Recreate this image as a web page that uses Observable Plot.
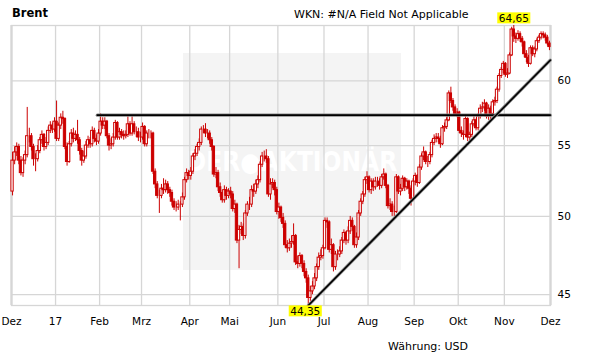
<!DOCTYPE html>
<html>
<head>
<meta charset="utf-8">
<script src="https://cdn.jsdelivr.net/npm/d3@7"></script>
<script src="https://cdn.jsdelivr.net/npm/@observablehq/plot@0.6"></script>
<style>
  body { margin: 0; background: #fff; font-family: "DejaVu Sans", Verdana, sans-serif; }
  #wrap { position: relative; width: 611px; height: 364px; overflow: hidden; background: #fff; }
  #wm { position: absolute; left: 183px; top: 53px; width: 218px; height: 217px; background: #f4f4f4; }
  #wmText { position: absolute; left: 0; top: 96px; width: 218px; text-align: center; color: #fff;
            font-family: "DejaVu Sans Condensed", "DejaVu Sans", sans-serif; font-weight: bold; font-size: 26px; line-height: 26px; }
  #chart { position: absolute; left: 0; top: 0; }
  .txt { position: absolute; font-size: 11px; line-height: 13px; color: #000; white-space: nowrap; }
</style>
</head>
<body>
<div id="wrap">
  <div id="wm"><div id="wmText">DER&#x25CF;AKTIONÄR</div></div>
  <div id="chart"></div>
  <div class="txt" style="left:12px;top:7px;font-weight:bold;font-size:11.5px;">Brent</div>
  <div class="txt" style="left:294px;top:8px;">WKN: #N/A Field Not Applicable</div>
  <div class="txt" style="left:388px;top:340px;">Währung: USD</div>
</div>
<script>
// Month tick labels and the trading-day index where each month starts
const monthLabels = ["Dez","17","Feb","Mrz","Apr","Mai","Jun","Jul","Aug","Sep","Okt","Nov","Dez"];
const monthStart  = [0, 21, 42, 62, 85, 104, 127, 149, 170, 192, 213, 235, 257];
const yTicks = [45, 50, 55, 60];

// Daily OHLC, Dec 2016 - Nov 2017 (USD)
const open = [
  51.7,53.9,54.5,54.9,53.9,53.0,53.9,54.3,55.7,55.7,54.9,54.0,54.0,54.6,55.4,55.8,54.9,55.2,56.1,56.5,56.2,
  56.8,55.5,56.5,57.1,57.0,54.9,53.8,55.1,55.9,55.5,55.8,55.4,54.6,53.9,54.2,55.0,55.4,55.1,56.1,55.5,55.3,
  55.9,56.8,56.5,56.8,55.7,55.0,55.1,55.6,56.7,55.6,56.0,55.8,55.7,55.8,56.6,55.9,56.6,56.0,56.0,55.6,
  55.6,56.4,55.1,55.9,55.9,55.9,53.1,52.2,51.4,51.4,51.9,51.8,52.2,51.8,51.6,51.0,50.6,50.6,50.8,50.8,51.3,52.5,53.0,
  52.8,53.1,54.2,54.4,54.9,55.2,56.2,56.2,55.9,55.9,55.4,54.9,52.9,53.0,52.0,51.6,51.1,51.8,51.4,
  51.7,51.5,50.5,50.8,48.4,49.1,49.3,48.7,50.2,50.8,50.8,51.8,51.7,52.2,52.5,53.6,54.2,54.2,54.0,51.5,52.2,52.3,51.8,
  50.3,50.6,49.9,49.5,48.1,47.9,48.2,48.3,48.7,47.0,46.9,47.4,46.9,46.4,46.0,44.8,45.2,45.5,46.0,46.7,47.3,47.4,
  47.9,49.7,49.6,47.8,48.1,46.7,47.5,47.5,47.7,48.4,48.9,48.4,49.0,49.7,49.3,48.1,48.6,50.2,51.0,51.5,52.5,
  52.7,51.8,52.4,52.0,52.4,52.4,52.1,52.7,52.9,52.1,50.7,50.8,50.3,50.3,52.7,51.7,51.9,52.6,52.0,52.4,51.9,51.2,
  52.4,52.8,52.3,53.4,54.2,54.5,53.8,53.8,54.3,55.2,55.5,55.6,55.5,55.1,56.3,56.4,56.9,59.0,58.4,57.9,57.4,
  57.5,56.1,55.9,55.8,57.0,55.6,55.8,56.6,56.9,56.3,57.2,57.8,57.9,58.2,57.2,57.8,57.4,58.3,58.4,59.3,60.4,60.9,
  61.4,60.5,60.6,62.1,64.3,63.7,63.5,63.9,63.5,63.2,62.2,61.9,61.4,62.7,62.2,62.6,63.3,63.6,63.9,63.8,63.6,63.1
];
const high = [
  54.5,54.9,55.2,55.1,54.2,54.1,54.6,57.9,56.3,55.9,55.1,54.4,55.0,55.6,56.1,55.9,55.6,56.4,56.8,56.7,57.1,
  58.4,56.7,57.4,57.6,57.1,55.2,55.3,56.2,56.3,56.1,56.9,55.6,54.8,54.6,55.3,55.7,55.6,56.4,56.3,55.8,56.2,
  57.4,57.1,57.1,56.9,55.9,55.5,55.9,56.9,56.8,56.3,56.2,56.1,56.1,57.3,56.8,57.3,56.8,56.4,56.3,56.0,
  56.7,56.5,56.1,56.2,56.1,56.0,53.3,52.4,51.8,52.2,52.6,52.5,52.4,52.0,51.8,51.2,51.0,51.1,51.0,51.6,52.7,53.3,53.2,
  53.4,54.4,54.7,55.1,55.5,56.4,56.5,56.65,56.2,56.1,55.6,55.0,53.4,53.2,52.3,51.8,52.1,52.0,51.9,
  52.0,51.7,51.1,50.9,49.4,49.6,49.5,50.4,51.0,51.3,52.1,52.2,52.5,52.8,53.8,54.5,54.6,54.7,54.2,52.6,52.6,52.5,52.0,
  50.9,50.7,50.2,49.7,48.4,48.5,48.7,49.5,48.8,47.4,47.6,47.5,47.1,46.6,46.2,45.5,45.8,46.3,46.9,47.6,47.8,48.1,
  49.9,49.9,49.7,48.5,48.2,47.7,47.8,48.0,48.6,49.1,49.0,49.3,50.0,49.9,49.4,48.9,50.4,51.2,51.7,52.7,53.1,
  52.8,52.6,52.6,52.7,52.7,52.6,52.9,53.3,53.0,52.2,51.2,51.0,50.7,52.9,52.8,52.2,52.8,52.7,52.6,52.5,52.1,52.6,
  53.0,52.9,53.6,54.4,54.9,54.6,54.2,54.5,55.4,55.8,55.9,55.9,55.7,56.5,56.7,57.1,59.2,59.5,58.6,58.1,57.8,
  57.6,56.4,56.1,57.2,57.1,56.0,56.8,57.2,57.0,57.4,58.1,58.3,58.5,58.3,58.1,58.0,58.5,58.7,59.5,60.6,61.1,61.6,
  61.5,61.0,62.3,64.5,64.65,64.0,64.2,64.1,63.7,63.3,62.5,62.1,62.9,62.9,62.8,63.5,63.8,64.1,64.1,64.0,63.8,63.3
];
const low = [
  51.4,53.6,54.2,53.6,52.8,52.7,53.6,54.1,55.2,54.6,53.5,53.1,53.8,54.4,55.1,54.6,54.7,55.0,55.9,55.9,56.0,
  55.3,55.3,56.2,56.6,54.7,53.5,53.7,54.9,55.2,55.3,55.1,54.3,53.5,53.7,54.0,54.8,54.8,54.9,55.2,55.0,55.1,
  55.7,56.2,56.2,55.5,54.6,54.7,54.9,55.4,55.4,55.4,55.5,55.4,55.5,55.6,55.7,55.7,55.8,55.6,55.3,55.2,
  55.4,54.9,54.9,55.5,55.5,52.9,51.9,51.2,50.2,51.2,51.5,51.6,51.5,51.3,50.7,50.4,50.3,50.4,49.7,50.6,51.1,52.3,52.5,
  52.5,52.9,53.9,54.2,54.6,55.0,55.9,55.6,55.5,55.1,54.6,52.7,52.6,51.7,51.3,50.9,50.9,51.1,51.2,
  51.2,50.3,50.2,48.2,46.6,48.8,48.4,48.5,50.0,50.4,50.6,51.3,51.5,51.9,52.3,53.4,53.8,53.7,51.3,51.1,51.9,51.4,50.1,
  49.8,49.6,49.2,47.9,47.6,47.7,47.9,48.1,46.8,46.6,46.7,46.6,46.1,45.7,44.35,44.6,45.0,45.3,45.8,46.5,47.1,47.2,
  47.8,49.2,47.6,47.5,46.4,46.5,47.1,47.3,47.5,48.2,48.1,48.2,48.8,49.0,47.9,47.9,48.4,50.0,50.8,51.3,52.2,
  51.6,51.5,51.7,51.8,52.0,51.8,51.9,52.5,51.9,50.5,50.4,50.0,50.0,50.2,51.5,51.4,51.7,51.7,51.8,51.5,50.7,51.0,
  52.1,52.0,52.2,53.2,53.9,53.6,53.4,53.6,54.1,55.0,55.2,55.2,54.8,55.0,56.0,56.2,56.8,58.2,57.6,57.2,57.1,
  55.9,55.6,55.4,55.6,55.3,55.3,55.6,56.4,56.1,56.1,57.0,57.5,57.6,57.0,56.9,56.9,57.2,58.0,58.2,59.1,60.2,60.6,
  60.3,60.2,60.5,62.0,63.2,63.1,63.3,63.2,62.8,61.9,61.5,61.1,61.3,62.0,61.9,62.4,63.1,63.4,63.5,63.3,62.9,62.5
];
const close = [
  53.9,54.5,54.9,53.9,53.0,53.9,54.3,55.7,55.7,54.9,54.0,54.0,54.6,55.4,55.8,54.9,55.2,56.1,56.5,56.2,56.8,
  55.5,56.5,57.1,57.0,54.9,53.8,55.1,55.9,55.5,55.8,55.4,54.6,53.9,54.2,55.0,55.4,55.1,56.1,55.5,55.3,55.9,
  56.8,56.5,56.8,55.7,55.0,55.1,55.6,56.7,55.6,56.0,55.8,55.7,55.8,56.6,55.9,56.6,56.0,56.0,55.6,55.6,
  56.4,55.1,55.9,55.9,55.9,53.1,52.2,51.4,51.4,51.9,51.8,52.2,51.8,51.6,51.0,50.6,50.6,50.8,50.8,51.3,52.5,53.0,52.8,
  53.1,54.2,54.4,54.9,55.2,56.2,56.2,55.9,55.9,55.4,54.9,52.9,53.0,52.0,51.6,51.1,51.8,51.4,51.7,
  51.5,50.5,50.8,48.4,49.1,49.3,48.7,50.2,50.8,50.8,51.8,51.7,52.2,52.5,53.6,54.2,54.2,54.0,51.5,52.2,52.3,51.8,50.3,
  50.6,49.9,49.5,48.1,47.9,48.2,48.3,48.7,47.0,46.9,47.4,46.9,46.4,46.0,44.8,45.2,45.5,46.0,46.7,47.3,47.4,47.9,
  49.7,49.6,47.8,48.1,46.7,47.5,47.5,47.7,48.4,48.9,48.4,49.0,49.7,49.3,48.1,48.6,50.2,51.0,51.5,52.5,52.7,
  51.8,52.4,52.0,52.4,52.4,52.1,52.7,52.9,52.1,50.7,50.8,50.3,50.3,52.7,51.7,51.9,52.6,52.0,52.4,51.9,51.2,52.4,
  52.8,52.3,53.4,54.2,54.5,53.8,53.8,54.3,55.2,55.5,55.6,55.5,55.1,56.3,56.4,56.9,59.0,58.4,57.9,57.4,57.5,
  56.1,55.9,55.8,57.0,55.6,55.8,56.6,56.9,56.3,57.2,57.8,57.9,58.2,57.2,57.8,57.4,58.3,58.4,59.3,60.4,60.9,61.4,
  60.5,60.6,62.1,64.3,63.7,63.5,63.9,63.5,63.2,62.2,61.9,61.4,62.7,62.2,62.6,63.3,63.6,63.9,63.8,63.6,63.1,62.8
];

// Drawn trend lines (index, price)
const resistanceLine = [{i: 40.4, v: 57.3}, {i: 256.4, v: 57.3}];
const supportLine    = [{i: 141, v: 44.35}, {i: 256.4, v: 61.7}];

const red = "#cc0000";
const days = close.map((c, i) => ({i, open: open[i], high: high[i], low: low[i], close: c}));
const maxDay = days.reduce((a, b) => (b.high > a.high ? b : a));
const minDay = days.reduce((a, b) => (b.low < a.low ? b : a));
const fmt = v => v.toFixed(2).replace(".", ",");
const months = monthLabels.map((label, k) => ({label, pos: monthStart[k] - 0.5}));

const plot = Plot.plot({
  width: 611,
  height: 364,
  marginLeft: 11,
  marginRight: 61,
  marginTop: 25,
  marginBottom: 59,
  style: {background: "transparent", fontFamily: "DejaVu Sans, sans-serif", color: "#000"},
  x: {type: "linear", domain: [-0.5, 256.5], axis: null},
  y: {type: "log", domain: [44.35, 64.65], axis: null},
  marks: [
    Plot.ruleY(yTicks, {y: d => d, stroke: "#d6d6d6", strokeWidth: 1.3}),
    Plot.ruleX(months, {x: "pos", stroke: "#d6d6d6", strokeWidth: 1.3}),
    Plot.frame({stroke: "#d6d6d6", strokeWidth: 1.3}),
    Plot.ruleX([months[0], months[months.length - 1]], {x: "pos", stroke: "#d6d6d6", strokeWidth: 2.2}),
    Plot.ruleX(days, {x: "i", y1: "low", y2: "high", stroke: red, strokeWidth: 1}),
    Plot.rect(days, {
      x1: d => d.i - 0.55, x2: d => d.i + 0.55, y1: "open", y2: "close",
      fill: d => (d.close >= d.open ? "#fff" : red), stroke: red, strokeWidth: 1
    }),
    Plot.line(resistanceLine, {x: "i", y: "v", stroke: "#8a8a8a", strokeWidth: 3.2}),
    Plot.line(resistanceLine, {x: "i", y: "v", stroke: "#000", strokeWidth: 1.6}),
    Plot.line(supportLine, {x: "i", y: "v", stroke: "#8a8a8a", strokeWidth: 3.2}),
    Plot.line(supportLine, {x: "i", y: "v", stroke: "#000", strokeWidth: 1.6}),
    Plot.text(months, {x: "pos", text: "label", frameAnchor: "bottom", dy: 19, fontSize: 10.5, fill: "#000"}),
    Plot.text(yTicks, {y: d => d, text: d => String(d), frameAnchor: "right", dx: 7, textAnchor: "start", fontSize: 10.5, fill: "#000"}),
    Plot.text([maxDay], {x: "i", y: "high", text: d => fmt(d.high), dy: -7, fontSize: 10.5, fill: "#000"}),
    Plot.text([minDay], {x: "i", y: "low", text: d => fmt(d.low), dx: -3, dy: 6, fontSize: 10.5, fill: "#000"})
  ]
});
document.getElementById("chart").appendChild(plot);

// yellow boxes behind the extreme labels
const labels = [fmt(maxDay.high), fmt(minDay.low)];
plot.querySelectorAll("text").forEach(t => {
  if (labels.includes(t.textContent)) {
    const b = t.getBBox();
    const r = document.createElementNS("http://www.w3.org/2000/svg", "rect");
    r.setAttribute("x", b.x - 1.5);
    r.setAttribute("y", b.y + 0.5);
    r.setAttribute("width", b.width + 3);
    r.setAttribute("height", b.height - 1);
    r.setAttribute("fill", "#ffff00");
    if (t.getAttribute("transform")) r.setAttribute("transform", t.getAttribute("transform"));
    t.parentNode.insertBefore(r, t);
  }
});
</script>
</body>
</html>
